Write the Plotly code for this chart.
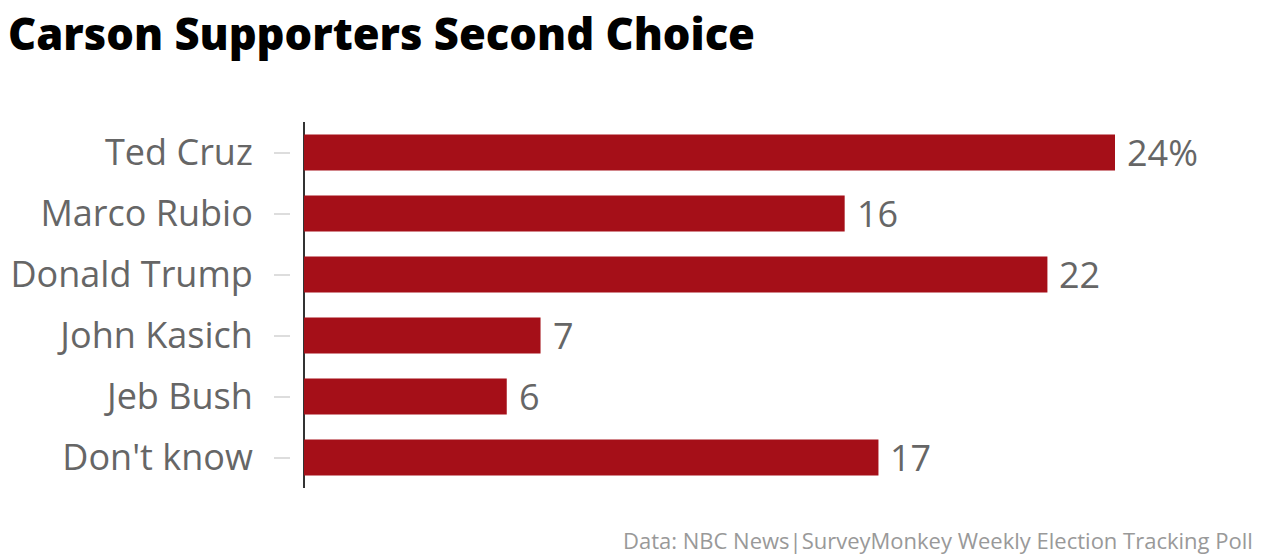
import plotly.graph_objects as go

categories = ["Ted Cruz", "Marco Rubio", "Donald Trump", "John Kasich", "Jeb Bush", "Don't know"]
values = [24, 16, 22, 7, 6, 17]
value_labels = ["24%", "16", "22", "7", "6", "17"]

W, H = 1280, 554
x0_px, x1_px = 304, 1250
xmax = (x1_px - x0_px) / (811 / 24)
plot_top, plot_bot = 122, 488
FONT = "Open Sans"
LABEL_SIZE = 36

fig = go.Figure(go.Bar(
    x=values, y=categories, orientation="h",
    marker=dict(color="#A50F18", line=dict(width=0)),
    cliponaxis=False, width=0.59, hoverinfo="x+y",
))

ann = [dict(x=v, y=c, text=t, xref="x", yref="y", xanchor="left", yanchor="middle",
            xshift=10, showarrow=False,
            font=dict(family=FONT, size=LABEL_SIZE, color="#666666"))
       for v, c, t in zip(values, categories, value_labels)]

ann.append(dict(text="Data: NBC News|SurveyMonkey Weekly Election Tracking Poll",
                xref="paper", yref="paper", x=1255 / W,
                y=-(540 - plot_bot) / (plot_bot - plot_top),
                xanchor="right", yanchor="middle", showarrow=False,
                font=dict(family=FONT, size=22, color="#999999")))

fig.update_layout(
    width=W, height=H,
    margin=dict(l=0, r=0, t=plot_top, b=H - plot_bot, autoexpand=False),
    paper_bgcolor="white", plot_bgcolor="white",
    showlegend=False,
    title=dict(text="Carson Supporters Second Choice", x=8 / W, xanchor="left",
               y=1 - 35 / H, yanchor="middle",
               font=dict(family=FONT, size=43.5, color="#000000", weight=800)),
    xaxis=dict(domain=[x0_px / W, x1_px / W], range=[0, xmax], showgrid=False,
               showticklabels=False, ticks="", showline=False,
               zeroline=True, zerolinecolor="#333333", zerolinewidth=2, fixedrange=True),
    yaxis=dict(autorange="reversed", anchor="free", position=290 / W,
               ticks="outside", ticklen=16, tickcolor="#dddddd", tickwidth=2,
               showline=False, showgrid=False, zeroline=False,
               tickfont=dict(family=FONT, size=LABEL_SIZE, color="#666666"),
               ticklabelstandoff=14, automargin=False, fixedrange=True),
    annotations=ann,
)

fig.write_html("out.html", config={"displayModeBar": False},
               post_script="document.body.style.margin='0px';")
